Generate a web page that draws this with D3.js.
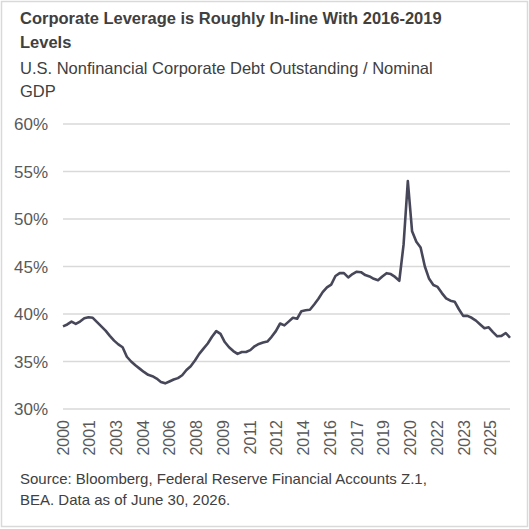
<!DOCTYPE html>
<html lang="en">
<head>
    <meta charset="utf-8">
    <title>Corporate leverage</title>
    <script type="text/javascript" src="https://cdn.jsdelivr.net/npm/d3@7"></script>
    <style type="text/css">
        body { margin: 0; background: #fff; }
        svg { font-family: Arial, "Liberation Sans", sans-serif; }
    </style>
</head>
<body>
    <script type="text/javascript">
        // Quarterly debt / GDP (%), 2000Q1 onward
        var values = [38.7, 38.9, 39.2, 38.95, 39.2, 39.55, 39.65, 39.6, 39.15, 38.7,
            38.25, 37.7, 37.2, 36.8, 36.5, 35.5, 35.0, 34.6, 34.25, 33.9,
            33.6, 33.45, 33.2, 32.85, 32.7, 32.9, 33.1, 33.25, 33.55, 34.1,
            34.5, 35.1, 35.8, 36.35, 36.9, 37.6, 38.2, 37.9, 37.05, 36.5,
            36.1, 35.8, 36.0, 36.0, 36.2, 36.6, 36.85, 37.0, 37.1, 37.6,
            38.2, 39.0, 38.8, 39.2, 39.6, 39.5, 40.3, 40.4, 40.45, 41.0,
            41.6, 42.3, 42.8, 43.1, 44.0, 44.3, 44.3, 43.85, 44.2, 44.45,
            44.4, 44.1, 43.95, 43.7, 43.55, 43.95, 44.3, 44.2, 43.9, 43.5,
            47.3, 54.0, 48.7, 47.6, 47.0, 45.0, 43.7, 43.05, 42.85, 42.2,
            41.65, 41.4, 41.3, 40.5, 39.8, 39.8, 39.6, 39.3, 38.9, 38.5,
            38.6, 38.1, 37.65, 37.7, 38.0, 37.5];
        var xLabels = ["2000", "2001", "2003", "2004", "2006", "2008", "2009", "2011", "2012",
            "2014", "2016", "2017", "2019", "2020", "2022", "2023", "2025"];
        var yTicks = [30, 35, 40, 45, 50, 55, 60];

        var w = 529, h = 529;
        var svg = d3.select("body").append("svg").attr("width", w).attr("height", h);

        // frame
        svg.append("rect").attr("x", 1.5).attr("y", 1.5).attr("width", w - 3).attr("height", h - 4)
            .attr("fill", "none").attr("stroke", "#d9d9d9").attr("stroke-width", 1.5);

        svg.append("text").attr("x", 20).attr("y", 24).attr("font-size", 16.5).attr("font-weight", "bold")
            .attr("fill", "#404040").text("Corporate Leverage is Roughly In-line With 2016-2019");
        svg.append("text").attr("x", 20).attr("y", 48).attr("font-size", 16.5).attr("font-weight", "bold")
            .attr("fill", "#404040").text("Levels");
        svg.append("text").attr("x", 20).attr("y", 74).attr("font-size", 16.5)
            .attr("fill", "#404040").text("U.S. Nonfinancial Corporate Debt Outstanding / Nominal");
        svg.append("text").attr("x", 20).attr("y", 97).attr("font-size", 16.5)
            .attr("fill", "#404040").text("GDP");

        var x = d3.scaleLinear().domain([0, values.length - 1]).range([63, 510]);
        var y = d3.scaleLinear().domain([30, 60]).range([409, 124]);

        // gridlines
        svg.append("g").selectAll("line").data(yTicks).enter().append("line")
            .attr("x1", 63).attr("x2", 510)
            .attr("y1", function(d) { return y(d); }).attr("y2", function(d) { return y(d); })
            .attr("stroke", "#d9d9d9").attr("stroke-width", 1.5);

        svg.append("g").selectAll("text").data(yTicks).enter().append("text")
            .attr("x", 48).attr("y", function(d) { return y(d) + 6; })
            .attr("text-anchor", "end").attr("font-size", 17).attr("fill", "#595959")
            .text(function(d) { return d + "%"; });

        // x labels spread evenly across the quarters
        var step = 6.28;
        svg.append("g").selectAll("text").data(xLabels).enter().append("text")
            .attr("transform", function(d, i) { return "translate(" + (x(i * step) + 5.5) + ",420) rotate(-90)"; })
            .attr("text-anchor", "end").attr("font-size", 16).attr("fill", "#595959")
            .text(function(d) { return d; });

        var line = d3.line().x(function(d, i) { return x(i); }).y(function(d) { return y(d); });
        svg.append("path").datum(values).attr("d", line)
            .attr("fill", "none").attr("stroke", "#47475a").attr("stroke-width", 2.6)
            .attr("stroke-linejoin", "round");

        svg.append("text").attr("x", 20).attr("y", 484).attr("font-size", 15)
            .attr("fill", "#404040").text("Source: Bloomberg, Federal Reserve Financial Accounts Z.1,");
        svg.append("text").attr("x", 20).attr("y", 505).attr("font-size", 15)
            .attr("fill", "#404040").text("BEA. Data as of June 30, 2026.");
    </script>
</body>
</html>
